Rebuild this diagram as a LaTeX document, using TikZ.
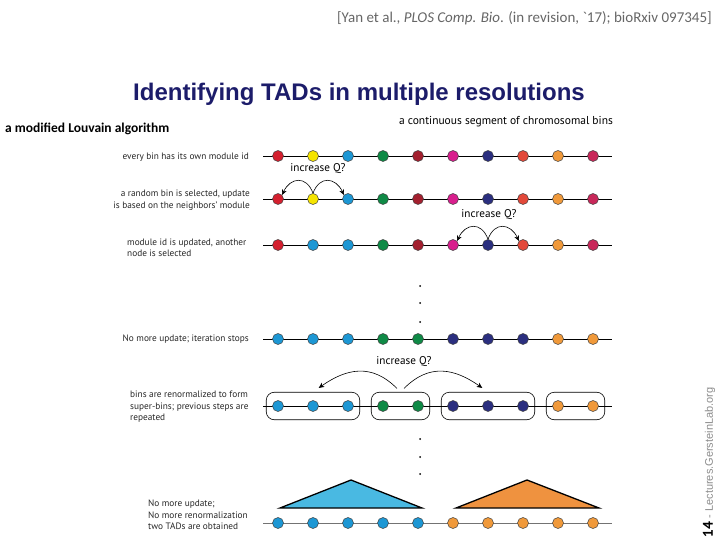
\documentclass[tikz,border=0pt]{standalone}
\usepackage{fontspec}
\setmainfont{PT Sans}
\newfontfamily\titlefont{Liberation Sans}
\newfontfamily\calfont{Carlito}
\usepackage{xcolor}
\usetikzlibrary{arrows.meta, positioning, fit}

\definecolor{binred}{HTML}{D4202F}
\definecolor{binyellow}{HTML}{F5E400}
\definecolor{binblue}{HTML}{1D97D4}
\definecolor{bingreen}{HTML}{0F8A46}
\definecolor{bindkred}{HTML}{A3202F}
\definecolor{binpink}{HTML}{D81F8D}
\definecolor{binnavy}{HTML}{2B2F7F}
\definecolor{binscarlet}{HTML}{E2493A}
\definecolor{binorange}{HTML}{F0993A}
\definecolor{bincrimson}{HTML}{C8285A}
\definecolor{tadblue}{HTML}{49B9E2}
\definecolor{tadorange}{HTML}{EF923F}
\definecolor{titlenavy}{HTML}{1C1C6A}

\begin{document}
\begin{tikzpicture}[x=1pt, y=-1pt,
    bin/.style={circle, draw=black!75, line width=0.5pt, minimum size=11pt, inner sep=0pt},
    chain/.style={line width=0.7pt},
    lbl/.style={font=\fontsize{9.3}{11.5}\selectfont, text=black!85, inner sep=0pt},
    ask/.style={font=\fontsize{11.2}{13}\selectfont, inner sep=0pt},
    jump/.style={-{Stealth[length=5.5pt, width=5pt]}, line width=0.6pt},
    grp/.style={draw, rounded corners=8pt, inner xsep=6pt, inner ysep=8pt, line width=0.6pt},
    tad/.style={draw=black, line width=1.3pt, line join=miter}]
    \useasboundingbox (0,0) rectangle (720,540);

    % header
    \node[anchor=east, inner sep=0pt, text=black!60, font=\calfont\fontsize{15}{17}\selectfont] (cite) at (712,18)
        {[Yan et al., \textit{PLOS Comp. Bio}. (in revision, `17); bioRxiv 097345]};
    \node[inner sep=0pt, text=titlenavy, font=\titlefont\bfseries\fontsize{24}{28}\selectfont] (title) at (359,94)
        {Identifying TADs in multiple resolutions};
    \node[anchor=west, inner sep=0pt, font=\calfont\bfseries\fontsize{13.5}{15}\selectfont] (algo) at (5,129)
        {a modified Louvain algorithm};
    \node[inner sep=0pt, font=\fontsize{11.5}{13}\selectfont] (segment) at (506,122)
        {a continuous segment of chromosomal bins};

    % rows of bins
    \foreach \r/\y/\ln/\cols in {
        1/156/black/{binred,binyellow,binblue,bingreen,bindkred,binpink,binnavy,binscarlet,binorange,bincrimson},
        2/199/black/{binred,binyellow,binblue,bingreen,bindkred,binpink,binnavy,binscarlet,binorange,bincrimson},
        3/245/black/{binred,binblue,binblue,bingreen,bindkred,binpink,binnavy,binscarlet,binorange,bincrimson},
        4/339/black/{binblue,binblue,binblue,bingreen,bingreen,binnavy,binnavy,binnavy,binorange,binorange},
        5/406/black/{binblue,binblue,binblue,bingreen,bingreen,binnavy,binnavy,binnavy,binorange,binorange},
        6/523/black!55/{binblue,binblue,binblue,binblue,binblue,binorange,binorange,binorange,binorange,binorange}} {
        \coordinate (s\r) at (263,\y);
        \coordinate (e\r) at (612,\y);
        \draw[chain, draw=\ln] (s\r) -- (e\r);
        \foreach \c [count=\i] in \cols
            \node[bin, fill=\c] (b\r-\i) at ({278+35*(\i-1)},\y) {};
    }

    % step labels
    \node[lbl, anchor=east] (t1) at (249,157) {every bin has its own module id};
    \node[lbl, anchor=east, align=right] (t2) at (250,200) {a random bin is selected, update\\is based on the neighbors' module};
    \node[lbl, anchor=west, align=left] (t3) at (127,248) {module id is updated, another\\node is selected};
    \node[lbl, anchor=east] (t4) at (249,339) {No more update; iteration stops};
    \node[lbl, anchor=west, align=left] (t5) at (130,407) {bins are renormalized to form\\super-bins; previous steps are\\repeated};
    \node[lbl, anchor=west, align=left] (t6) at (148,515) {No more update;\\No more renormalization\\two TADs are obtained};

    % moves
    \node[ask] (q1) at (318,169) {increase Q?};
    \draw[jump] (b2-2.north) to[out=110, in=65, looseness=1.6] (b2-1.north east);
    \draw[jump] (b2-2.north) to[out=70, in=115, looseness=1.6] (b2-3.north west);
    \node[ask] (q2) at (489,215) {increase Q?};
    \draw[jump] (b3-7.north) to[out=110, in=65, looseness=1.6] (b3-6.north east);
    \draw[jump] (b3-7.north) to[out=70, in=115, looseness=1.6] (b3-8.north west);

    % ellipsis
    \foreach \y in {286,303,322,439,457,474}
        \fill (420,\y) circle (1pt);

    % super-bins
    \node[grp, fit=(b5-1)(b5-3)] (g1) {};
    \node[grp, fit=(b5-4)(b5-5)] (g2) {};
    \node[grp, fit=(b5-6)(b5-8)] (g3) {};
    \node[grp, fit=(b5-9)(b5-10)] (g4) {};
    \node[ask] (q3) at (404,362) {increase Q?};
    \draw[jump, shorten <=5pt, shorten >=7pt] (g2.north) to[out=135, in=35, looseness=1.2] (g1.north);
    \draw[jump, shorten <=5pt, shorten >=7pt] (g2.north) to[out=45, in=145, looseness=1.2] (g3.north);

    % TADs
    \draw[tad, fill=tadblue] (280,508) -- (351,480) -- (422,508) -- cycle;
    \draw[tad, fill=tadorange] (456,508) -- (527,480) -- (599,508) -- cycle;

    % footer
    \node[anchor=west, rotate=90, inner sep=0pt] (foot) at (709,538)
        {\fontsize{14}{15}\selectfont\bfseries 14 {\titlefont\mdseries\fontsize{11}{12}\selectfont\color{black!45} - Lectures.GersteinLab.org}};
\end{tikzpicture}
\end{document}
